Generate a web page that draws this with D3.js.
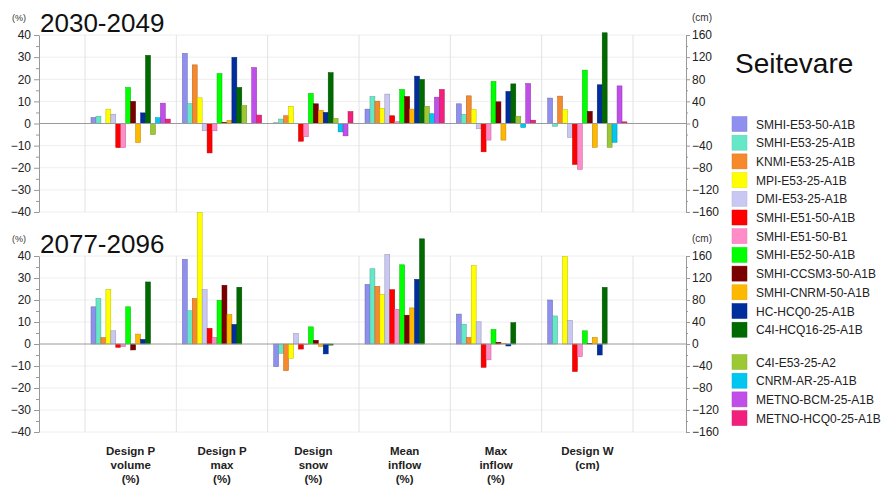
<!DOCTYPE html>
<html><head><meta charset="utf-8">
<script src="https://cdn.jsdelivr.net/npm/d3@7"></script>
<style>
body{margin:0;background:#fff;}
svg text{font-family:"Liberation Sans",Arial,sans-serif;}
</style></head>
<body><svg id="c" width="889" height="485"></svg>
<script>
const categories = ["Design P volume (%)","Design P max (%)","Design snow (%)","Mean inflow (%)","Max inflow (%)","Design W (cm)"];
const categoryLines = [["Design P","volume","(%)"],["Design P","max","(%)"],["Design","snow","(%)"],["Mean","inflow","(%)"],["Max","inflow","(%)"],["Design W","(cm)"]];
const series = ["SMHI-E53-50-A1B","SMHI-E53-25-A1B","KNMI-E53-25-A1B","MPI-E53-25-A1B","DMI-E53-25-A1B","SMHI-E51-50-A1B","SMHI-E51-50-B1","SMHI-E52-50-A1B","SMHI-CCSM3-50-A1B","SMHI-CNRM-50-A1B","HC-HCQ0-25-A1B","C4I-HCQ16-25-A1B","C4I-E53-25-A2","CNRM-AR-25-A1B","METNO-BCM-25-A1B","METNO-HCQ0-25-A1B"];
const colors = ["#8f8fef","#66e8c8","#f5892c","#ffff00","#c8c8f2","#ff0000","#ff8cc8","#00ff00","#7a0000","#ffb800","#002e9c","#006a00","#9cc833","#00c6f0","#c04ee8","#f0207c"];
const pctTicks = [-40,-30,-20,-10,0,10,20,30,40];
const cmTicks = [-160,-120,-80,-40,0,40,80,120,160];
// values per category (16 series); Design W in cm
const vals2030 = [
  [2.7,3.3,0,6.5,4.2,-10.9,-10.9,16.3,10,-8.6,4.8,30.8,-5,2.6,9.2,2.0],
  [31.7,9,26.5,11.6,-3.3,-13.3,-3.3,22.6,0.5,1.4,29.9,16.3,8.1,0,25.3,3.8],
  [0.3,2,3.5,7.8,0,-8,-6,13.6,8.9,6,5,23,2.3,-3.8,-5.6,5.4],
  [6.5,12.2,10.1,6.8,13.3,3.5,0.8,15.4,12.2,6.5,21.4,19.9,7.8,4.4,11.9,15.4],
  [8.9,4.1,12.5,6.3,-2.4,-12.8,-7.5,19,9.8,-7.5,14.5,17.9,3.3,-1.8,18.1,1.5],
  [46,-5,49.5,25,-25,-74,-83,96.5,22,-43,70,164,-43,-34,68,3]
];
const vals2077 = [
  [16.9,20.7,2.9,24.9,6.0,-1.5,-1.2,16.9,-2.7,4.5,2.1,28.2,null,null,null,null],
  [38.5,15.1,20.7,59.7,24.7,7.1,3.0,19.9,26.7,13.4,8.9,25.8,null,null,null,null],
  [-10.3,-4.2,-12.1,-6.5,4.8,-2.3,-0.3,7.8,1.7,-1.1,-4.5,-0.5,null,null,null,null],
  [27.1,34.2,26.2,22.5,40.7,24.7,15.8,36,13.1,16.4,29.4,47.8,null,null,null,null],
  [13.6,9.0,3.0,35.7,10.1,-10.6,-7.2,6.6,0.8,0.2,-0.9,9.7,null,null,null,null],
  [80,51,0,159,43,-50,-23,24,1,12,-20,103,null,null,null,null]
];
const periods = ["2030-2049","2077-2096"];
const station = "Seitevare";

const svg = d3.select("#c");
const leftX = 39, rightX = 686;
const x = d3.scaleBand().domain(categories).range([85, 633]).padding(0);
const xs = d3.scaleBand().domain(series).range([6, 85.3]).padding(0);
const panels = [{title:periods[0], top:35, bottom:212, data:vals2030},{title:periods[1], top:256, bottom:432, data:vals2077}];

panels.forEach(p => {
  const ys = d3.scaleLinear().domain([-40,40]).range([p.bottom, p.top]);
  const yc = d3.scaleLinear().domain([-160,160]).range([p.bottom, p.top]);
  const g = svg.append("g");
  // gridlines
  g.selectAll(".grid").data(pctTicks.filter(t=>t!==0)).join("line")
    .attr("x1", leftX).attr("x2", rightX).attr("y1", d=>ys(d)).attr("y2", d=>ys(d))
    .attr("stroke", "#eeeeee").attr("stroke-width", 1);
  // vertical separators
  const seps = categories.map(c=>x(c)).concat([x.range()[1]]);
  g.selectAll(".sep").data(seps).join("line")
    .attr("x1", d=>d).attr("x2", d=>d).attr("y1", p.top).attr("y2", p.bottom)
    .attr("stroke", "#e2e2e2").attr("stroke-width", 1);
  // bars
  categories.forEach((c, ci) => {
    const sc = ci === 5 ? yc : ys;
    series.forEach((s, si) => {
      const v = p.data[ci][si];
      if (v === null || v === 0) return;
      g.append("rect")
        .attr("x", x(c) + xs(s)).attr("width", xs.bandwidth())
        .attr("y", Math.min(sc(v), sc(0))).attr("height", Math.abs(sc(v) - sc(0)))
        .attr("fill", colors[si])
        .attr("stroke", d3.color(colors[si]).darker(0.9)).attr("stroke-width", 0.5);
    });
  });
  // zero line
  g.append("line").attr("x1", leftX).attr("x2", rightX).attr("y1", ys(0)).attr("y2", ys(0))
    .attr("stroke", "#9a9a9a").attr("stroke-width", 1);
  // left axis
  const la = g.append("g").attr("transform", `translate(${leftX},0)`)
    .call(d3.axisLeft(ys).tickValues(pctTicks).tickSize(5).tickSizeOuter(0));
  g.append("g").attr("transform", `translate(${leftX},0)`)
    .call(d3.axisLeft(ys).tickValues(d3.range(-35,40,10)).tickSize(3).tickFormat("").tickSizeOuter(0))
    .select(".domain").remove();
  la.selectAll("text").attr("font-size", 12).attr("fill", "#222").attr("x", -8);
  la.select(".domain").attr("stroke", "#999");
  la.selectAll(".tick line").attr("stroke", "#999");
  // right axis
  const ra = g.append("g").attr("transform", `translate(${rightX},0)`)
    .call(d3.axisRight(yc).tickValues(cmTicks).tickSize(4).tickSizeOuter(0));
  g.append("g").attr("transform", `translate(${rightX},0)`)
    .call(d3.axisRight(yc).tickValues(d3.range(-140,160,40)).tickSize(2).tickFormat("").tickSizeOuter(0))
    .select(".domain").remove();
  ra.selectAll("text").attr("font-size", 12).attr("fill", "#222").attr("x", 6);
  ra.select(".domain").attr("stroke", "#999");
  ra.selectAll(".tick line").attr("stroke", "#999");
  svg.selectAll(".tick line").attr("stroke", "#999");
  // titles
  g.append("text").attr("x", 40).attr("y", p.top - 3).attr("font-size", 26).attr("fill", "#111").text(p.title);
  g.append("text").attr("x", 12).attr("y", p.top - 14).attr("font-size", 9).attr("fill", "#333").text("(%)");
  g.append("text").attr("x", rightX + 6).attr("y", p.top - 14).attr("font-size", 10).attr("fill", "#333").text("(cm)");
});

// category labels
categories.forEach((c, ci) => {
  const t = svg.append("text").attr("x", x(c) + x.bandwidth()/2).attr("y", 455)
    .attr("text-anchor", "middle").attr("font-size", 11.5).attr("font-weight", "bold").attr("fill", "#222");
  categoryLines[ci].forEach((ln, li) => {
    t.append("tspan").attr("x", x(c) + x.bandwidth()/2).attr("dy", li === 0 ? 0 : 14).text(ln);
  });
});

// station title
svg.append("text").attr("x", 735).attr("y", 73).attr("font-size", 28).attr("fill", "#111").text(station);

// legend
const lg = svg.append("g");
series.forEach((s, i) => {
  const cy = 124 + i * 18.7 + (i >= 12 ? 13.6 : 0);
  lg.append("rect").attr("x", 732).attr("y", cy - 7.5).attr("width", 15).attr("height", 15)
    .attr("fill", colors[i]).attr("stroke", d3.color(colors[i]).darker(0.3)).attr("stroke-width", 0.5);
  lg.append("text").attr("x", 756).attr("y", cy + 4.5).attr("font-size", 12).attr("fill", "#222").text(s);
});
</script></body></html>
